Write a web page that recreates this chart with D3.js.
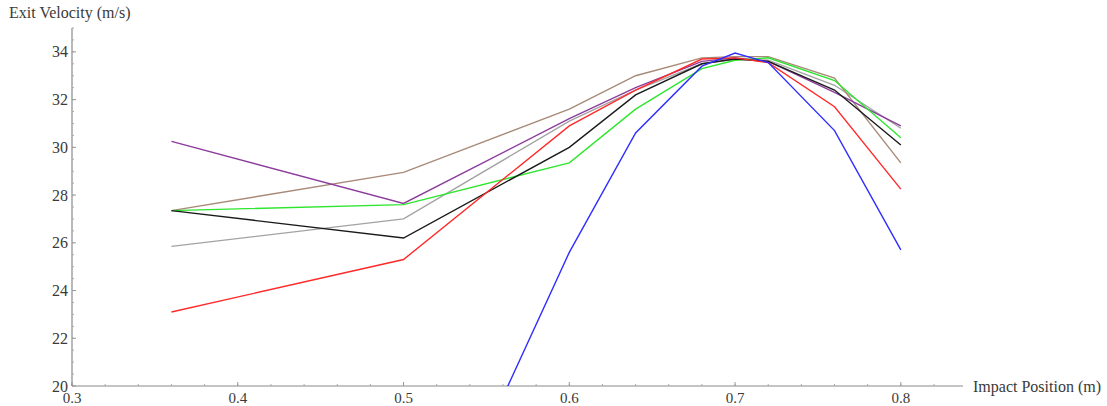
<!DOCTYPE html>
<html>
<head>
<meta charset="utf-8">
<script src="https://cdn.jsdelivr.net/npm/d3@7"></script>
<style>
body { margin: 0; background: #fff; }
text { font-family: "Liberation Serif", "DejaVu Serif", serif; fill: #3a3a3a; }
.line { fill: none; stroke-width: 1.4; }
</style>
</head>
<body>
<svg id="chart"></svg>
<script>
// impact positions (m)
var positions = [0.36, 0.5, 0.6, 0.64, 0.68, 0.7, 0.72, 0.76, 0.8];

// exit velocity (m/s) per run
var blueRun   = [null, 10.5, 25.6, 30.6, 33.4, 33.95, 33.55, 30.7, 25.7];
var redRun    = [23.1, 25.3, 30.9, 32.4, 33.7, 33.75, 33.55, 31.7, 28.25];
var blackRun  = [27.35, 26.2, 30.0, 32.2, 33.5, 33.7, 33.6, 32.4, 30.1];
var greenRun  = [27.35, 27.6, 29.35, 31.6, 33.3, 33.65, 33.75, 32.8, 30.4];
var grayRun   = [25.85, 27.0, 31.1, 32.4, 33.5, 33.7, 33.65, 32.6, 30.8];
var purpleRun = [30.25, 27.65, 31.2, 32.5, 33.6, 33.75, 33.6, 32.3, 30.9];
var brownRun  = [27.35, 28.95, 31.6, 33.0, 33.75, 33.8, 33.8, 32.9, 29.35];

var xTicks = [0.3, 0.4, 0.5, 0.6, 0.7, 0.8];
var yTicks = [20, 22, 24, 26, 28, 30, 32, 34];

var series = [
    {name: "gray",   values: grayRun,   color: "#a3a3a3"},
    {name: "brown",  values: brownRun,  color: "#a88a78"},
    {name: "purple", values: purpleRun, color: "#8c3c9c"},
    {name: "green",  values: greenRun,  color: "#2ee62e"},
    {name: "black",  values: blackRun,  color: "#1a1a1a"},
    {name: "red",    values: redRun,    color: "#ff2a2a"},
    {name: "blue",   values: blueRun,   color: "#2e2eff"}
];

var width = 1107, height = 406;
var margin = {top: 28, right: 144, bottom: 20, left: 72};

var svg = d3.select('#chart')
    .attr('width', width)
    .attr('height', height);

var x = d3.scaleLinear()
    .domain([0.3, 0.8375])
    .range([margin.left, width - margin.right]);

var y = d3.scaleLinear()
    .domain([20, 35])
    .range([height - margin.bottom, margin.top]);

svg.append("defs").append("clipPath")
    .attr("id", "plot")
    .append("rect")
    .attr("x", margin.left)
    .attr("y", margin.top)
    .attr("width", width - margin.right - margin.left)
    .attr("height", height - margin.bottom - margin.top);

// x axis
var xAxis = svg.append("g")
    .attr("transform", "translate(0," + y(20) + ")");
xAxis.append("line")
    .attr("x1", x(0.3)).attr("x2", x(0.8375))
    .attr("stroke", "#8a8a8a").attr("stroke-width", 1.2);
xAxis.selectAll(".minor")
    .data(d3.range(0.3, 0.84, 0.02))
    .enter().append("line")
    .attr("x1", d => x(d)).attr("x2", d => x(d))
    .attr("y1", 0).attr("y2", -2)
    .attr("stroke", "#aaa");
xAxis.selectAll(".major")
    .data(xTicks)
    .enter().append("line")
    .attr("x1", d => x(d)).attr("x2", d => x(d))
    .attr("y1", 0).attr("y2", -4)
    .attr("stroke", "#999");
xAxis.selectAll(".lbl")
    .data(xTicks)
    .enter().append("text")
    .attr("x", d => x(d))
    .attr("y", 17)
    .attr("text-anchor", "middle")
    .style("font-size", "15px")
    .text(d => d.toFixed(1));

// y axis
var yAxis = svg.append("g")
    .attr("transform", "translate(" + x(0.3) + ",0)");
yAxis.append("line")
    .attr("y1", y(20)).attr("y2", y(35))
    .attr("stroke", "#8a8a8a").attr("stroke-width", 1.2);
yAxis.selectAll(".minor")
    .data(d3.range(20, 35.01, 0.5))
    .enter().append("line")
    .attr("y1", d => y(d)).attr("y2", d => y(d))
    .attr("x1", 0).attr("x2", 2)
    .attr("stroke", "#aaa");
yAxis.selectAll(".major")
    .data(yTicks)
    .enter().append("line")
    .attr("y1", d => y(d)).attr("y2", d => y(d))
    .attr("x1", 0).attr("x2", 4)
    .attr("stroke", "#999");
yAxis.selectAll(".lbl")
    .data(yTicks)
    .enter().append("text")
    .attr("x", -4)
    .attr("y", d => y(d))
    .attr("dy", "0.35em")
    .attr("text-anchor", "end")
    .style("font-size", "16px")
    .text(d => d);

// axis titles
svg.append("text")
    .attr("x", 9)
    .attr("y", 18)
    .style("font-size", "16px")
    .text("Exit Velocity (m/s)");

svg.append("text")
    .attr("x", x(0.8375) + 10)
    .attr("y", y(20))
    .attr("dy", "0.35em")
    .style("font-size", "16px")
    .text("Impact Position (m)");

var valueline = d3.line()
    .defined(d => d.v !== null)
    .x(d => x(d.p))
    .y(d => y(d.v));

svg.append("g")
    .attr("clip-path", "url(#plot)")
    .selectAll(".line")
    .data(series)
    .enter()
    .append("path")
    .attr("class", "line")
    .attr("stroke", d => d.color)
    .attr("d", d => valueline(d.values.map((v, i) => ({p: positions[i], v: v}))));
</script>
</body>
</html>
